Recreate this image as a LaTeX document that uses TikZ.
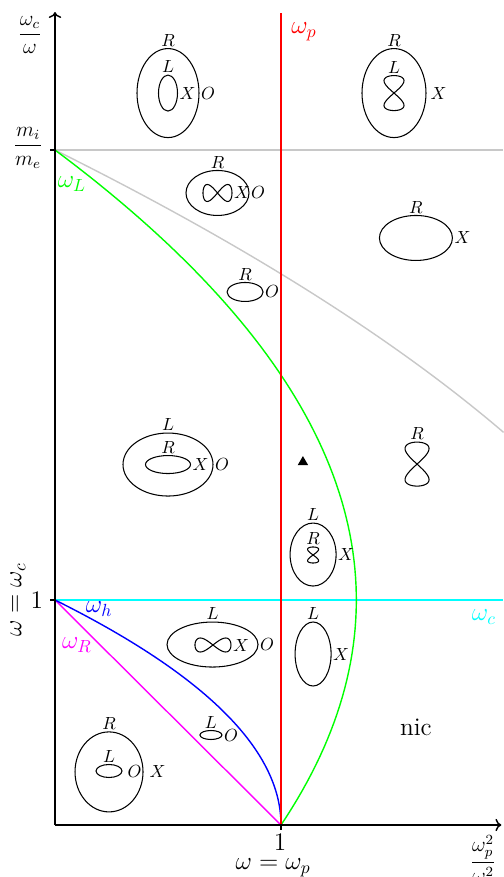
\documentclass[tikz,border=0pt]{standalone}
\usepackage{amsmath}
\usepackage{tikz}
\usetikzlibrary{arrows.meta,calc,positioning,shapes.geometric}
\definecolor{Grey}{HTML}{C8C8C8}
\definecolor{Green}{HTML}{00FF00}
\definecolor{Cyan}{HTML}{00FFFF}
\definecolor{Magenta}{HTML}{FF00FF}
\tikzset{
  curve/.style={thick},
  ring/.style={ellipse,draw,semithick,inner sep=0pt,outer sep=0pt},
  holder/.style={inner sep=0pt,outer sep=0pt},
  lab/.style={inner sep=1pt},
  axlab/.style={inner sep=0pt},
  wave/.style={semithick}
}
\begin{document}
\begin{tikzpicture}[x=4.52cm,y=4.5cm]
  \useasboundingbox (-1.1cm,-1.04cm) rectangle (8.96cm,16.5cm);
  \coordinate (O) at (0,0);
  \coordinate (xend) at (1.975,0);
  \coordinate (yend) at (0,3.613);
  \coordinate (mratio) at (0,3);
  \coordinate (one) at (0,1);
  \coordinate (pone) at (1,0);
  % cut-off and resonance curves
  \draw[curve,Grey] (mratio) -- (1.982,3);
  \draw[curve,Grey] plot[domain=3:1.745,samples=60,variable=\t] ({(9-\t*\t)/3},\t);
  \draw[curve,Cyan] (one) -- (1.982,1);
  \draw[curve,Magenta] (one) -- (pone);
  \draw[curve,blue] plot[domain=0:1,samples=60,variable=\t] ({1-\t*\t},\t);
  \draw[curve,Green] plot[domain=0:3,samples=80,variable=\t] ({(1+\t)*(1-\t/3)},\t);
  \draw[curve,red] (pone) -- (1,3.61);
  % axes
  \draw[thick,->] (O) -- (xend);
  \draw[thick,->] (O) -- (yend);
  \draw[thick] (mratio) -- ++(-0.1cm,0);
  \draw[thick] (one) -- ++(-0.1cm,0);
  \draw[thick] (pone) -- ++(0,-0.1cm);
  \node[axlab] (ylab) at (-0.111,3.511) {\large$\dfrac{\omega_c}{\omega}$};
  \node[axlab] (mlab) at (-0.119,3.009) {\large$\dfrac{m_i}{m_e}$};
  \node[axlab] (yone) at (-0.08,1) {\Large$1$};
  \node[axlab,rotate=90] (wc) at (-0.164,1) {\Large$\omega=\omega_c$};
  \node[axlab] (xone) at (0.996,-0.0756) {\Large$1$};
  \node[axlab] (wp) at (0.965,-0.19) {\Large$\omega=\omega_p$};
  \node[axlab] (xlab) at (1.894,-0.15) {\large$\dfrac{\omega_p^2}{\omega^2}$};
  % curve names
  \node[red] (lp) at (1.102,3.524) {\Large$\omega_p$};
  \node[Green] (lL) at (0.075,2.849) {\Large$\omega_L$};
  \node[blue] (lh) at (0.195,0.96) {\Large$\omega_h$};
  \node[Magenta] (lR) at (0.097,0.8) {\Large$\omega_R$};
  \node[Cyan] (lc) at (1.898,0.924) {\Large$\omega_c$};
  % wave normal surfaces
  \node[ring,minimum width=1.24cm,minimum height=1.78cm] (a1) at (0.5,3.253) {};
  \node[ring,minimum width=0.38cm,minimum height=0.72cm] (a2) at (0.5,3.253) {};
  \node[lab,above=0pt of a1] (a1R) {$R$};
  \node[lab,above=0pt of a2] (a2L) {$L$};
  \node[lab,right=0pt of a2] (a2X) {$X$};
  \node[lab,right=0pt of a1] (a1O) {$O$};

  \node[ring,minimum width=1.28cm,minimum height=1.78cm] (b1) at (1.5,3.253) {};
  \node[holder,minimum width=0.4cm,minimum height=0.7cm] (b2) at (1.5,3.253) {};
  \draw[wave,shift={(b2.center)}] plot[domain=0:360,samples=73,smooth,variable=\t] ({0.4cm*sin(\t)*cos(\t)},{0.35cm*cos(\t)});
  \node[lab,above=0pt of b1] (b1R) {$R$};
  \node[lab,above=0pt of b2] (b2L) {$L$};
  \node[lab,right=1.5pt of b1] (b1X) {$X$};

  \node[ring,minimum width=1.26cm,minimum height=0.9cm] (c1) at (0.719,2.809) {};
  \node[holder,minimum width=0.58cm,minimum height=0.34cm] (c2) at (0.719,2.809) {};
  \draw[wave,shift={(c2.center)}] plot[domain=0:360,samples=73,smooth,variable=\t] ({0.29cm*cos(\t)},{0.34cm*sin(\t)*cos(\t)});
  \node[lab,above=0pt of c1] (c1R) {$R$};
  \node[lab,right=0pt of c2] (c2X) {$X$};
  \node[lab,right=0pt of c1] (c1O) {$O$};

  \node[ring,minimum width=0.72cm,minimum height=0.38cm] (d1) at (0.841,2.369) {};
  \node[lab,above=0pt of d1] (d1R) {$R$};
  \node[lab,right=0pt of d1] (d1O) {$O$};

  \node[ring,minimum width=1.46cm,minimum height=0.9cm] (e1) at (1.597,2.609) {};
  \node[lab,above=0pt of e1] (e1R) {$R$};
  \node[lab,right=0pt of e1] (e1X) {$X$};

  \node[holder,minimum width=0.48cm,minimum height=0.88cm] (f1) at (1.602,1.604) {};
  \draw[wave,shift={(f1.center)}] plot[domain=0:360,samples=73,smooth,variable=\t] ({0.48cm*sin(\t)*cos(\t)},{0.44cm*cos(\t)});
  \node[lab,above=0pt of f1] (f1R) {$R$};

  \node[ring,minimum width=1.8cm,minimum height=1.26cm] (g1) at (0.5,1.602) {};
  \node[ring,minimum width=0.9cm,minimum height=0.36cm] (g2) at (0.5,1.602) {};
  \node[lab,above=0pt of g1] (g1L) {$L$};
  \node[lab,above=0pt of g2] (g2R) {$R$};
  \node[lab,right=0pt of g2] (g2X) {$X$};
  \node[lab,right=0pt of g1] (g1O) {$O$};

  \node[ring,minimum width=0.92cm,minimum height=1.26cm] (h1) at (1.142,1.202) {};
  \node[holder,minimum width=0.22cm,minimum height=0.32cm] (h2) at (1.142,1.2) {};
  \draw[wave,shift={(h2.center)}] plot[domain=0:360,samples=73,smooth,variable=\t] ({0.22cm*sin(\t)*cos(\t)},{0.16cm*cos(\t)});
  \node[lab,above=0pt of h1] (h1L) {$L$};
  \node[lab,above=0pt of h2] (h2R) {$R$};
  \node[lab,right=0pt of h1] (h1X) {$X$};
  \node[regular polygon,regular polygon sides=3,fill,minimum size=0.24cm,inner sep=0pt] (tri) at (1.097,1.613) {};

  \node[ring,minimum width=1.82cm,minimum height=0.9cm] (k1) at (0.697,0.802) {};
  \node[holder,minimum width=0.72cm,minimum height=0.28cm] (k2) at (0.699,0.8) {};
  \draw[wave,shift={(k2.center)}] plot[domain=0:360,samples=73,smooth,variable=\t] ({0.36cm*cos(\t)},{0.28cm*sin(\t)*cos(\t)});
  \node[lab,above=0pt of k1] (k1L) {$L$};
  \node[lab,right=0pt of k2] (k2X) {$X$};
  \node[lab,right=0pt of k1] (k1O) {$O$};

  \node[ring,minimum width=0.72cm,minimum height=1.28cm] (m1) at (1.142,0.76) {};
  \node[lab,above=0pt of m1] (m1L) {$L$};
  \node[lab,right=0pt of m1] (m1X) {$X$};

  \node[ring,minimum width=0.44cm,minimum height=0.18cm] (n1) at (0.69,0.4) {};
  \node[lab,above=0pt of n1] (n1L) {$L$};
  \node[lab,right=0pt of n1] (n1O) {$O$};

  \node[ring,minimum width=1.36cm,minimum height=1.6cm] (p1) at (0.239,0.236) {};
  \node[ring,minimum width=0.52cm,minimum height=0.26cm] (p2) at (0.239,0.24) {};
  \node[lab,above=0pt of p1] (p1R) {$R$};
  \node[lab,above=0pt of p2] (p2L) {$L$};
  \node[lab,right=2pt of p2] (p2O) {$O$};
  \node[lab,right=2.5pt of p1] (p1X) {$X$};

  \node (nic) at (1.597,0.4356) {\Large nic};
\end{tikzpicture}
\end{document}
